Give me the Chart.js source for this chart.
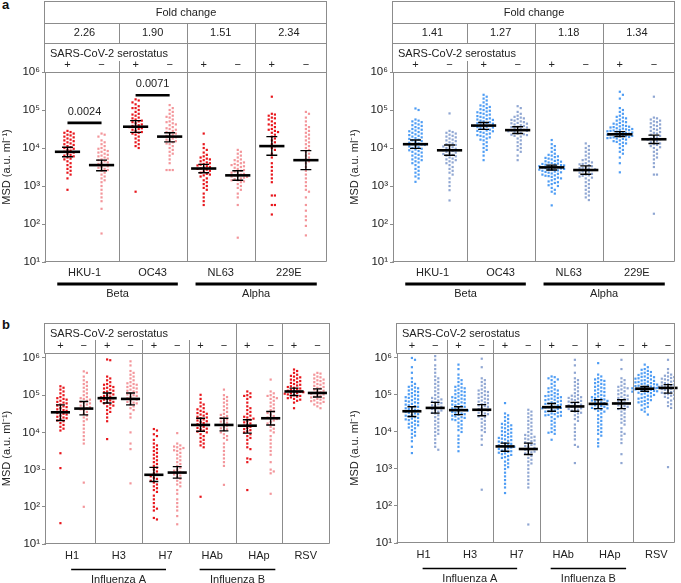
<!DOCTYPE html>
<html>
<head>
<meta charset="utf-8">
<script src="https://cdn.jsdelivr.net/npm/chart.js@4.4.1/dist/chart.umd.min.js"></script>
<style>
  body { margin: 0; background: #fff; width: 681px; height: 583px; position: relative; overflow: hidden;
         font-family: "Liberation Sans", Arial, Helvetica, sans-serif; }
  canvas { position: absolute; }
  .tag { position: absolute; font-weight: bold; font-size: 13px; color: #111; }
</style>
</head>
<body>
<div class="tag" style="left:2px;top:-3px">a</div>
<div class="tag" style="left:2px;top:317px">b</div>
<canvas id="aLeft" width="340" height="300" style="left:0;top:0"></canvas>
<canvas id="aRight" width="341" height="300" style="left:340px;top:0"></canvas>
<canvas id="bLeft" width="340" height="283" style="left:0;top:300px"></canvas>
<canvas id="bRight" width="341" height="283" style="left:340px;top:300px"></canvas>
<script>
// all point values are log10(MSD, a.u. per ml)

// ---------- panel a: seasonal coronaviruses ----------
const coronaCats = ["HKU-1", "OC43", "NL63", "229E"];
const coronaFamilies = ["Beta", "Alpha"];
const foldRed = ["2.26", "1.90", "1.51", "2.34"];
const foldBlue = ["1.41", "1.27", "1.18", "1.34"];
const pValues = ["0.0024", "0.0071"];
const pValueCats = [0, 1];
const pValueLevels = [4.66, 5.39];

const redPosA = [
  [4.45,4.42,4.40,4.38,4.35,4.33,4.30,4.28,4.25,4.22,4.20,4.18,4.15,4.12,4.10,4.08,4.05,4.02,4.00,3.98,3.95,3.93,3.90,3.88,3.85,3.82,3.80,3.78,3.75,3.72,3.70,3.65,3.60,3.55,3.50,3.45,3.40,3.35,3.30,3.20,2.90],
  [5.28,5.25,5.20,5.15,5.10,5.05,5.05,5.00,4.95,4.90,4.88,4.85,4.80,4.78,4.75,4.72,4.70,4.68,4.65,4.62,4.60,4.58,4.56,4.55,4.52,4.50,4.48,4.45,4.42,4.40,4.38,4.35,4.30,4.25,4.20,4.15,4.10,4.05,4.00,2.85],
  [4.38,4.10,4.00,3.95,3.88,3.82,3.78,3.75,3.72,3.70,3.68,3.65,3.62,3.60,3.58,3.56,3.54,3.52,3.50,3.48,3.46,3.45,3.43,3.40,3.38,3.35,3.32,3.30,3.28,3.25,3.20,3.15,3.10,3.05,3.00,2.95,2.90,2.80,2.70,2.60,2.50],
  [5.35,4.90,4.88,4.85,4.80,4.78,4.75,4.70,4.65,4.62,4.60,4.55,4.50,4.48,4.45,4.42,4.40,4.35,4.30,4.25,4.20,4.15,4.10,4.05,4.00,3.95,3.85,3.75,3.60,3.50,3.40,3.30,3.20,3.10,2.75,2.75,2.50,2.50,2.25]
];
const redNegA = [
  [4.38,4.35,4.30,4.20,4.15,4.10,4.05,4.00,3.98,3.95,3.92,3.90,3.88,3.85,3.82,3.80,3.78,3.75,3.72,3.70,3.68,3.65,3.62,3.60,3.58,3.55,3.52,3.50,3.48,3.45,3.42,3.40,3.35,3.30,3.25,3.20,3.15,3.10,3.00,2.90,2.80,2.70,2.60,2.40,1.75],
  [5.13,5.05,5.00,4.95,4.90,4.85,4.82,4.80,4.75,4.70,4.68,4.65,4.62,4.60,4.55,4.52,4.50,4.48,4.45,4.42,4.40,4.38,4.35,4.32,4.30,4.28,4.25,4.22,4.20,4.18,4.15,4.12,4.10,4.05,4.00,3.95,3.90,3.85,3.80,3.70,3.60,3.42,3.42,3.42],
  [3.95,3.90,3.85,3.80,3.75,3.70,3.68,3.65,3.62,3.60,3.58,3.55,3.55,3.52,3.50,3.48,3.45,3.42,3.40,3.38,3.35,3.35,3.32,3.30,3.28,3.26,3.25,3.24,3.22,3.20,3.18,3.15,3.15,3.12,3.10,3.05,3.00,2.95,2.90,2.80,2.70,2.50,1.64],
  [4.95,4.90,4.80,4.70,4.60,4.55,4.50,4.45,4.40,4.35,4.30,4.25,4.20,4.15,4.10,4.05,4.00,3.95,3.90,3.85,3.80,3.75,3.70,3.65,3.60,3.50,3.40,3.30,3.20,3.10,3.00,2.90,2.85,2.70,2.50,2.35,2.20,2.10,1.95,1.70]
];
// [lower CI, median, upper CI]
const redPosStatsA = [[3.77,3.90,4.02],[4.41,4.56,4.72],[3.35,3.46,3.57],[3.81,4.05,4.30]];
const redNegStatsA = [[3.40,3.55,3.68],[4.16,4.30,4.40],[3.15,3.28,3.40],[3.43,3.68,3.93]];

const bluePosA = [
  [5.04,5.00,4.75,4.72,4.70,4.68,4.65,4.62,4.60,4.58,4.55,4.52,4.50,4.48,4.46,4.44,4.42,4.40,4.38,4.36,4.34,4.32,4.30,4.28,4.26,4.24,4.22,4.20,4.18,4.16,4.14,4.12,4.10,4.09,4.08,4.06,4.04,4.02,4.00,3.98,3.96,3.94,3.92,3.90,3.88,3.85,3.82,3.80,3.78,3.75,3.72,3.70,3.68,3.65,3.62,3.60,3.55,3.50,3.45,3.40,3.35,3.30,3.25,3.20,3.11],
  [5.40,5.35,5.30,5.25,5.20,5.15,5.12,5.10,5.08,5.05,5.02,5.00,4.98,4.96,4.94,4.92,4.90,4.88,4.86,4.84,4.82,4.80,4.78,4.76,4.75,4.74,4.72,4.70,4.68,4.66,4.65,4.64,4.62,4.60,4.59,4.58,4.56,4.55,4.54,4.52,4.50,4.48,4.46,4.45,4.44,4.42,4.40,4.38,4.36,4.34,4.32,4.30,4.28,4.25,4.22,4.20,4.15,4.10,4.05,4.00,3.95,3.90,3.80,3.68],
  [4.21,4.10,4.05,4.00,3.95,3.90,3.85,3.82,3.80,3.78,3.76,3.74,3.72,3.70,3.68,3.66,3.65,3.64,3.62,3.60,3.59,3.58,3.57,3.56,3.55,3.54,3.53,3.52,3.51,3.50,3.49,3.48,3.47,3.46,3.45,3.44,3.43,3.42,3.41,3.40,3.38,3.37,3.36,3.35,3.33,3.32,3.30,3.28,3.27,3.26,3.24,3.22,3.20,3.18,3.15,3.12,3.10,3.08,3.05,3.02,3.00,2.95,2.90,2.85,2.80,2.49],
  [5.48,5.40,5.30,5.05,5.00,4.95,4.90,4.85,4.82,4.80,4.78,4.75,4.72,4.70,4.68,4.66,4.64,4.62,4.60,4.58,4.57,4.56,4.55,4.54,4.52,4.51,4.50,4.49,4.48,4.47,4.46,4.45,4.44,4.43,4.42,4.41,4.40,4.39,4.38,4.37,4.36,4.35,4.34,4.33,4.32,4.31,4.30,4.29,4.28,4.27,4.26,4.25,4.24,4.22,4.20,4.18,4.16,4.14,4.12,4.10,4.05,4.00,3.95,3.90,3.85,3.75,3.60,3.36]
];
const blueNegA = [
  [4.91,4.45,4.42,4.40,4.38,4.35,4.32,4.30,4.28,4.25,4.22,4.20,4.18,4.15,4.12,4.10,4.08,4.06,4.04,4.02,4.00,3.98,3.96,3.94,3.92,3.90,3.88,3.86,3.84,3.82,3.80,3.78,3.75,3.72,3.70,3.68,3.65,3.62,3.60,3.55,3.50,3.45,3.40,3.35,3.30,3.20,3.10,3.00,2.89,2.62],
  [5.10,5.05,4.95,4.90,4.85,4.82,4.80,4.78,4.76,4.74,4.72,4.70,4.68,4.66,4.65,4.64,4.62,4.60,4.58,4.56,4.55,4.54,4.52,4.50,4.48,4.47,4.46,4.45,4.44,4.42,4.40,4.38,4.36,4.35,4.34,4.32,4.30,4.25,4.20,4.15,4.10,4.05,4.00,3.95,3.90,3.80,3.68],
  [4.12,4.05,4.00,3.95,3.90,3.85,3.80,3.75,3.70,3.68,3.65,3.62,3.60,3.58,3.57,3.55,3.52,3.50,3.48,3.47,3.46,3.44,3.42,3.40,3.38,3.37,3.35,3.32,3.30,3.28,3.27,3.25,3.22,3.20,3.15,3.10,3.05,3.00,2.95,2.90,2.85,2.80,2.75,2.70,2.63],
  [5.35,4.80,4.78,4.75,4.72,4.70,4.68,4.65,4.62,4.60,4.58,4.55,4.52,4.50,4.48,4.45,4.42,4.40,4.38,4.35,4.32,4.30,4.28,4.25,4.23,4.22,4.20,4.18,4.15,4.12,4.10,4.08,4.05,4.02,4.00,3.95,3.90,3.85,3.80,3.75,3.70,3.60,3.50,3.30,3.30,2.27]
];
const bluePosStatsA = [[3.99,4.10,4.21],[4.49,4.59,4.67],[3.42,3.49,3.55],[4.30,4.36,4.43]];
const blueNegStatsA = [[3.81,3.94,4.08],[4.38,4.47,4.56],[3.31,3.42,3.53],[4.12,4.23,4.34]];

// ---------- panel b: influenza and RSV ----------
const fluCats = ["H1", "H3", "H7", "HAb", "HAp", "RSV"];
const fluFamilies = ["Influenza A", "Influenza B"];

const redPosB = [
  [5.24,5.20,5.15,5.10,5.05,5.00,4.95,4.92,4.90,4.88,4.85,4.82,4.80,4.78,4.75,4.72,4.70,4.68,4.65,4.62,4.60,4.58,4.55,4.52,4.50,4.48,4.45,4.42,4.40,4.38,4.35,4.32,4.30,4.25,4.20,4.15,4.10,4.05,3.44,3.04,1.56],
  [5.96,5.94,5.50,5.45,5.40,5.35,5.30,5.28,5.25,5.22,5.20,5.18,5.15,5.12,5.10,5.08,5.05,5.02,5.00,4.98,4.96,4.94,4.92,4.90,4.88,4.86,4.84,4.82,4.80,4.78,4.75,4.72,4.70,4.65,4.60,4.55,4.50,4.40,4.30,3.82],
  [4.09,4.05,3.95,3.90,3.80,3.70,3.65,3.60,3.55,3.50,3.45,3.40,3.35,3.30,3.25,3.20,3.15,3.10,3.05,3.00,2.95,2.90,2.86,2.82,2.78,2.75,2.70,2.65,2.60,2.55,2.50,2.45,2.40,2.30,2.20,2.10,2.00,1.95,1.90,1.70,1.66],
  [5.01,4.90,4.80,4.75,4.70,4.65,4.62,4.58,4.55,4.52,4.50,4.48,4.45,4.42,4.40,4.38,4.35,4.32,4.30,4.28,4.25,4.22,4.20,4.18,4.15,4.12,4.10,4.08,4.05,4.02,4.00,3.95,3.90,3.85,3.80,3.75,3.70,3.65,3.60,2.27],
  [5.10,5.05,5.00,4.98,4.95,4.90,4.80,4.70,4.65,4.60,4.55,4.50,4.45,4.42,4.40,4.37,4.34,4.30,4.27,4.24,4.21,4.18,4.15,4.12,4.09,4.06,4.03,4.00,3.95,3.90,3.85,3.80,3.70,3.60,3.55,3.30,3.28,3.20,2.45],
  [5.69,5.65,5.60,5.55,5.52,5.50,5.48,5.45,5.42,5.40,5.38,5.35,5.33,5.30,5.28,5.26,5.24,5.22,5.20,5.18,5.16,5.14,5.12,5.10,5.09,5.08,5.06,5.05,5.04,5.02,5.00,4.98,4.96,4.94,4.92,4.90,4.88,4.85,4.80,4.65]
];
const redNegB = [
  [5.64,5.60,5.50,5.40,5.35,5.30,5.25,5.20,5.15,5.10,5.05,5.00,4.95,4.92,4.90,4.88,4.85,4.82,4.80,4.78,4.75,4.72,4.70,4.68,4.65,4.62,4.60,4.55,4.50,4.45,4.40,4.35,4.30,4.20,4.10,4.00,3.90,3.80,3.70,2.65,2.00],
  [5.91,5.80,5.65,5.60,5.55,5.50,5.45,5.40,5.35,5.32,5.30,5.28,5.25,5.22,5.20,5.18,5.15,5.12,5.10,5.08,5.05,5.02,5.00,4.98,4.95,4.92,4.90,4.88,4.85,4.82,4.80,4.78,4.75,4.70,4.65,4.60,4.50,4.40,4.00,3.70,3.55,2.63],
  [3.98,3.70,3.65,3.62,3.60,3.58,3.55,3.52,3.50,3.45,3.40,3.35,3.30,3.25,3.20,3.15,3.10,3.05,3.00,2.97,2.94,2.92,2.90,2.87,2.84,2.80,2.75,2.70,2.65,2.60,2.55,2.45,2.35,2.20,2.10,2.00,1.90,1.75,1.53],
  [5.15,5.00,4.95,4.90,4.85,4.80,4.75,4.70,4.65,4.60,4.55,4.50,4.47,4.44,4.41,4.38,4.35,4.32,4.29,4.26,4.23,4.20,4.17,4.14,4.11,4.08,4.05,4.00,3.95,3.90,3.85,3.80,3.70,3.60,3.50,3.40,3.30,3.20,3.10,2.59],
  [5.42,5.10,5.05,5.00,4.98,4.95,4.92,4.90,4.85,4.80,4.75,4.70,4.65,4.60,4.56,4.52,4.48,4.44,4.40,4.38,4.36,4.32,4.28,4.24,4.20,4.15,4.10,4.05,4.00,3.90,3.80,3.70,3.60,3.50,3.40,3.20,3.00,2.95,2.90,2.35],
  [5.60,5.58,5.55,5.50,5.48,5.45,5.42,5.40,5.38,5.35,5.32,5.30,5.28,5.25,5.22,5.20,5.18,5.15,5.12,5.10,5.08,5.06,5.04,5.02,5.00,4.98,4.96,4.94,4.92,4.90,4.88,4.86,4.84,4.82,4.80,4.78,4.75,4.70,4.65]
];
const redPosStatsB = [[4.32,4.54,4.74],[4.79,4.92,5.06],[2.68,2.86,3.06],[4.03,4.20,4.38],[3.98,4.18,4.34],[4.99,5.10,5.19]];
const redNegStatsB = [[4.47,4.64,4.83],[4.74,4.90,5.06],[2.77,2.92,3.08],[4.04,4.20,4.38],[4.20,4.38,4.56],[4.95,5.06,5.17]];

const bluePosB = [
  [6.00,5.95,5.75,5.60,5.45,5.35,5.30,5.25,5.22,5.20,5.18,5.15,5.12,5.10,5.08,5.05,5.02,5.00,4.98,4.96,4.94,4.92,4.90,4.88,4.86,4.84,4.82,4.80,4.78,4.76,4.74,4.72,4.70,4.68,4.66,4.64,4.62,4.60,4.58,4.56,4.54,4.52,4.50,4.48,4.46,4.44,4.42,4.40,4.38,4.36,4.34,4.32,4.30,4.28,4.25,4.22,4.20,4.18,4.15,4.12,4.10,4.05,4.00,3.95,3.90,3.85,3.75,3.60,3.43],
  [5.82,5.70,5.55,5.45,5.40,5.35,5.30,5.25,5.22,5.20,5.18,5.15,5.12,5.10,5.08,5.05,5.02,5.00,4.98,4.96,4.94,4.92,4.90,4.88,4.86,4.84,4.82,4.80,4.78,4.76,4.74,4.72,4.70,4.68,4.66,4.64,4.62,4.60,4.59,4.58,4.56,4.54,4.52,4.50,4.48,4.46,4.44,4.42,4.40,4.38,4.36,4.34,4.32,4.30,4.25,4.20,4.15,4.10,4.05,4.00,3.90,3.80,3.70,3.60,3.48],
  [4.78,4.50,4.45,4.40,4.35,4.30,4.25,4.22,4.20,4.18,4.15,4.12,4.10,4.08,4.05,4.02,4.00,3.98,3.95,3.92,3.90,3.88,3.86,3.84,3.82,3.80,3.78,3.76,3.74,3.72,3.70,3.68,3.66,3.64,3.62,3.61,3.60,3.58,3.56,3.54,3.52,3.50,3.48,3.46,3.44,3.42,3.40,3.38,3.35,3.32,3.30,3.25,3.20,3.15,3.10,3.05,3.00,2.90,2.80,2.70,2.60,2.50,2.35],
  [5.50,5.48,5.45,5.42,5.40,5.35,5.30,5.25,5.20,5.18,5.15,5.12,5.10,5.08,5.05,5.02,5.00,4.98,4.97,4.96,4.94,4.92,4.90,4.88,4.87,4.86,4.84,4.82,4.80,4.78,4.77,4.76,4.74,4.72,4.70,4.68,4.67,4.66,4.65,4.64,4.62,4.60,4.58,4.56,4.55,4.54,4.52,4.50,4.48,4.46,4.45,4.44,4.42,4.40,4.35,4.30,4.25,4.20,4.15,4.10,4.05,4.00,3.98,3.95,3.79],
  [5.86,5.55,5.50,5.45,5.42,5.40,5.38,5.35,5.32,5.30,5.28,5.25,5.22,5.20,5.18,5.15,5.12,5.10,5.08,5.05,5.02,5.00,4.98,4.96,4.94,4.92,4.90,4.88,4.86,4.85,4.84,4.82,4.80,4.78,4.76,4.75,4.74,4.72,4.70,4.68,4.66,4.65,4.64,4.62,4.60,4.57,4.55,4.50,4.45,4.40,4.35,4.30,4.25,4.20,4.15,4.10,4.05,4.00,3.95,3.90,3.80,3.70,3.61],
  [5.82,5.75,5.70,5.68,5.65,5.62,5.60,5.58,5.56,5.54,5.52,5.50,5.49,5.48,5.46,5.45,5.44,5.42,5.40,5.39,5.38,5.36,5.35,5.34,5.32,5.31,5.30,5.29,5.28,5.26,5.25,5.24,5.23,5.22,5.21,5.20,5.19,5.18,5.17,5.16,5.15,5.14,5.13,5.12,5.11,5.10,5.09,5.08,5.06,5.05,5.04,5.02,5.00,4.98,4.96,4.94,4.92,4.90,4.88,4.86,4.84,4.82,4.80,4.78,4.75,4.72,4.68,4.64,4.60,4.55,4.47]
];
const blueNegB = [
  [6.05,5.95,5.80,5.70,5.60,5.50,5.45,5.40,5.35,5.30,5.25,5.20,5.15,5.10,5.05,5.00,4.95,4.92,4.90,4.88,4.85,4.82,4.80,4.78,4.75,4.72,4.70,4.68,4.65,4.62,4.60,4.58,4.55,4.52,4.50,4.45,4.40,4.35,4.30,4.25,4.20,4.15,4.10,4.05,4.00,3.95,3.90,3.80,3.70,3.60,3.52],
  [5.98,5.75,5.45,5.40,5.35,5.30,5.25,5.20,5.15,5.12,5.10,5.08,5.05,5.02,5.00,4.98,4.95,4.92,4.90,4.88,4.85,4.82,4.80,4.78,4.75,4.72,4.70,4.68,4.65,4.62,4.60,4.58,4.55,4.52,4.50,4.48,4.45,4.42,4.40,4.35,4.30,4.25,4.20,4.15,4.10,4.05,4.00,3.90,3.80,3.65,2.44],
  [4.60,4.55,4.50,4.45,4.40,4.35,4.30,4.25,4.20,4.15,4.10,4.05,4.00,3.95,3.92,3.90,3.87,3.85,3.82,3.80,3.77,3.75,3.72,3.70,3.67,3.65,3.62,3.60,3.57,3.54,3.52,3.50,3.47,3.45,3.42,3.40,3.35,3.30,3.25,3.20,3.15,3.10,3.00,2.90,2.80,2.70,2.60,2.50,1.50],
  [5.95,5.80,5.60,5.45,5.40,5.35,5.30,5.25,5.20,5.15,5.10,5.05,5.00,4.98,4.96,4.94,4.92,4.90,4.88,4.86,4.84,4.82,4.80,4.78,4.76,4.74,4.72,4.70,4.68,4.66,4.64,4.62,4.60,4.58,4.55,4.52,4.50,4.45,4.40,4.35,4.30,4.20,4.10,4.00,3.90,3.80,3.65,3.60,3.16],
  [5.95,5.70,5.45,5.40,5.35,5.30,5.25,5.22,5.20,5.18,5.15,5.12,5.10,5.05,5.02,5.00,4.98,4.95,4.92,4.90,4.88,4.85,4.82,4.80,4.78,4.77,4.75,4.72,4.70,4.68,4.65,4.62,4.60,4.55,4.50,4.45,4.40,4.35,4.30,4.25,4.20,4.10,4.00,3.95,3.90,3.80,3.70,3.40,3.16],
  [5.95,5.70,5.60,5.55,5.52,5.50,5.48,5.46,5.44,5.42,5.40,5.38,5.36,5.34,5.32,5.30,5.28,5.26,5.25,5.24,5.23,5.22,5.21,5.20,5.19,5.18,5.17,5.16,5.15,5.14,5.12,5.10,5.08,5.06,5.04,5.02,5.00,4.98,4.95,4.92,4.90,4.85,4.80,4.75,4.70,4.65,3.05]
];
const bluePosStatsB = [[4.42,4.56,4.68],[4.47,4.59,4.68],[3.48,3.61,3.70],[4.56,4.67,4.77],[4.63,4.76,4.87],[5.10,5.17,5.23]];
const blueNegStatsB = [[4.51,4.65,4.80],[4.44,4.60,4.74],[3.39,3.54,3.70],[4.56,4.69,4.80],[4.63,4.77,4.87],[5.05,5.19,5.28]];

const yTicks = [1e1, 1e2, 1e3, 1e4, 1e5, 1e6];
const SUP = ["⁰", "¹", "²", "³", "⁴", "⁵", "⁶"];
const FONT = '"Liberation Sans", Arial, Helvetica, sans-serif';
const LINE = "#8c8c8c";
const INK = "#222";

Chart.defaults.font.family = FONT;
Chart.defaults.font.size = 11;
Chart.defaults.color = INK;

// spread the points of each group sideways so they don't overlap
function swarm(chart, gap) {
  const xs = chart.scales.x, ys = chart.scales.y;
  const unit = xs.getPixelForValue(1) - xs.getPixelForValue(0);
  chart.data.datasets.forEach(ds => {
    const groups = new Map();
    ds.data.forEach(p => {
      if (!groups.has(p.c)) groups.set(p.c, []);
      groups.get(p.c).push(p);
    });
    groups.forEach(pts => {
      const placed = [];
      pts.forEach(p => {
        const py = ys.getPixelForValue(p.y);
        let dx = 0;
        for (let k = 0; k < 80; k++) {
          const cand = k === 0 ? 0 : (k % 2 ? 1 : -1) * Math.ceil(k / 2) * gap;
          const hit = placed.some(q => Math.abs(q.x - cand) < gap - 0.01 && Math.abs(q.y - py) < gap - 0.01);
          if (!hit) { dx = cand; break; }
        }
        placed.push({ x: dx, y: py });
        p.x = p.x + dx / unit;
      });
    });
  });
  chart.update("none");
}

function drawStats(chart, cfg) {
  const { ctx, scales: { x, y } } = chart;
  const unit = x.getPixelForValue(1) - x.getPixelForValue(0);
  ctx.save();
  ctx.strokeStyle = "#000";
  [[cfg.posStats, cfg.offPos], [cfg.negStats, cfg.offNeg]].forEach(([stats, off]) => {
    stats.forEach(([lo, med, hi], i) => {
      const px = x.getPixelForValue(i + off);
      const yl = y.getPixelForValue(Math.pow(10, lo));
      const ym = y.getPixelForValue(Math.pow(10, med));
      const yh = y.getPixelForValue(Math.pow(10, hi));
      const cap = cfg.capW * unit / 2, bar = cfg.medW * unit / 2;
      ctx.lineWidth = 1.4;
      ctx.beginPath();
      ctx.moveTo(px, yh); ctx.lineTo(px, yl);
      ctx.moveTo(px - cap, yh); ctx.lineTo(px + cap, yh);
      ctx.moveTo(px - cap, yl); ctx.lineTo(px + cap, yl);
      ctx.stroke();
      ctx.lineWidth = 2.6;
      ctx.beginPath();
      ctx.moveTo(px - bar, ym); ctx.lineTo(px + bar, ym);
      ctx.stroke();
    });
  });

  // significance bars
  if (cfg.pvals) {
    ctx.fillStyle = INK;
    ctx.font = "11px " + FONT;
    ctx.textAlign = "center";
    ctx.textBaseline = "middle";
    cfg.pvals.forEach((txt, k) => {
      const i = cfg.pCats[k];
      const x0 = x.getPixelForValue(i + cfg.offPos), x1 = x.getPixelForValue(i + cfg.offNeg);
      const yy = y.getPixelForValue(Math.pow(10, cfg.pLevels[k]));
      ctx.lineWidth = 2.6;
      ctx.beginPath(); ctx.moveTo(x0, yy); ctx.lineTo(x1, yy); ctx.stroke();
      ctx.fillText(txt, (x0 + x1) / 2, yy - 11);
    });
  }
  ctx.restore();
}

function drawFrame(chart, cfg) {
  const { ctx, chartArea: a, scales: { x } } = chart;
  const cx = v => x.getPixelForValue(v);
  const L = Math.round(a.left) - 0.5, R = Math.round(a.right) - 0.5;
  const T = Math.round(a.top) + 0.5, B = Math.round(a.bottom) - 0.5;
  const n = cfg.cats.length;
  ctx.save();
  ctx.strokeStyle = LINE;
  ctx.lineWidth = 1;
  const seg = (x0, y0, x1, y1) => { ctx.beginPath(); ctx.moveTo(x0, y0); ctx.lineTo(x1, y1); ctx.stroke(); };

  // header table and plot box
  seg(L, cfg.tableTop + 0.5, R, cfg.tableTop + 0.5);
  cfg.rowLines.forEach(r => seg(L, r + 0.5, R, r + 0.5));
  seg(L, T, R, T);
  seg(L, B, R, B);
  seg(L, cfg.tableTop, L, T);
  seg(R, cfg.tableTop, R, B);
  for (let i = 1; i < n; i++) {
    const bx = Math.round(cx(i - 0.5)) + 0.5;
    const gap = cfg.sepGaps[i - 1];
    if (gap) {
      if (gap[0] > cfg.sepFrom) seg(bx, cfg.sepFrom, bx, gap[0]);
      seg(bx, gap[1], bx, B);
    } else {
      seg(bx, cfg.sepFrom, bx, B);
    }
  }

  ctx.fillStyle = INK;
  ctx.font = "11px " + FONT;
  ctx.textBaseline = "middle";
  ctx.textAlign = "center";
  if (cfg.fold) {
    ctx.fillText("Fold change", (a.left + a.right) / 2, cfg.foldTitleY);
    cfg.fold.forEach((f, i) => ctx.fillText(f, cx(i), cfg.foldY));
  }
  ctx.textAlign = "left";
  ctx.fillText("SARS-CoV-2 serostatus", a.left + 5, cfg.seroY);
  ctx.textAlign = "center";
  cfg.cats.forEach((c, i) => {
    ctx.fillText("+", cx(i + cfg.offPos), cfg.signY);
    ctx.fillText("\u2212", cx(i + cfg.offNeg), cfg.signY);
    ctx.fillText(c, cx(i), a.bottom + cfg.catDy);
  });

  // virus family bars
  ctx.strokeStyle = "#000";
  ctx.lineWidth = cfg.famLW;
  cfg.families.forEach((name, k) => {
    const [f0, f1] = cfg.famSpan[k];
    const yy = a.bottom + cfg.famDy;
    seg(cx(f0), yy, cx(f1), yy);
    ctx.fillText(name, (cx(f0) + cx(f1)) / 2, a.bottom + cfg.famLabelDy);
  });
  ctx.restore();
}

function makePanel(cfg) {
  const n = cfg.cats.length;
  const toPts = (groups, off) => groups.flatMap((vals, i) =>
    vals.map(v => ({ x: i + off, y: Math.pow(10, v), c: i })));
  const chart = new Chart(document.getElementById(cfg.id), {
    type: "scatter",
    data: {
      datasets: [
        { label: "+", data: toPts(cfg.pos, cfg.offPos), pointBackgroundColor: cfg.colors[0],
          pointStyle: "rect", pointRadius: 1.55, pointBorderWidth: 0 },
        { label: "\u2212", data: toPts(cfg.neg, cfg.offNeg), pointBackgroundColor: cfg.colors[1],
          pointStyle: "rect", pointRadius: 1.55, pointBorderWidth: 0 }
      ]
    },
    options: {
      responsive: false,
      animation: false,
      events: [],
      layout: { padding: cfg.pad },
      plugins: { legend: { display: false }, tooltip: { enabled: false } },
      scales: {
        x: { type: "linear", min: cfg.xRange[0], max: cfg.xRange[1], display: false },
        y: {
          type: "logarithmic",
          min: 10,
          max: cfg.yMax,
          afterFit: s => { s.width = cfg.axisW; },
          afterBuildTicks: s => { s.ticks = yTicks.map(v => ({ value: v })); },
          ticks: {
            callback: v => "10" + SUP[Math.round(Math.log10(v))],
            padding: 2,
            color: INK,
            font: { size: 11.5 }
          },
          grid: { drawOnChartArea: false, tickLength: 3, color: LINE },
          border: { color: LINE },
          title: { display: true, text: "MSD (a.u. ml\u207B\u00B9)", padding: 0, color: INK, font: { size: 11 } }
        }
      }
    },
    plugins: [{
      id: "deco",
      afterDatasetsDraw: c => drawStats(c, cfg),
      afterDraw: c => drawFrame(c, cfg)
    }]
  });
  swarm(chart, 3.1);
  return chart;
}

const headerA = {
  cats: coronaCats, families: coronaFamilies, famSpan: [[-0.40, 1.37], [1.63, 3.41]],
  xRange: [-0.58, 3.56], yMax: 1e6, offPos: -0.25, offNeg: 0.25, medW: 0.37, capW: 0.16,
  tableTop: 1, rowLines: [23, 43], sepFrom: 23, sepGaps: [[43, 61], null, null],
  foldTitleY: 13, foldY: 33, seroY: 54, signY: 65,
  catDy: 11, famDy: 22, famLW: 3, famLabelDy: 32
};
const headerB = {
  cats: fluCats, families: fluFamilies, famSpan: [[-0.02, 2.01], [2.73, 4.35]],
  yMax: Math.pow(10, 6.134), offPos: -0.25, offNeg: 0.25, medW: 0.41, capW: 0.19,
  tableTop: 23, rowLines: [], sepFrom: 23, sepGaps: [[23, 40], [23, 40], [23, 40], null, null],
  seroY: 34, signY: 46,
  catDy: 12, famDy: 25.5, famLW: 1.6, famLabelDy: 36
};

makePanel(Object.assign({}, headerA, {
  id: "aLeft", pos: redPosA, neg: redNegA, posStats: redPosStatsA, negStats: redNegStatsA,
  colors: ["#e8151b", "#f3959a"], fold: foldRed,
  pvals: pValues, pCats: pValueCats, pLevels: pValueLevels,
  axisW: 45, pad: { left: 0, right: 13, top: 72, bottom: 38 }
}));
makePanel(Object.assign({}, headerA, {
  id: "aRight", pos: bluePosA, neg: blueNegA, posStats: bluePosStatsA, negStats: blueNegStatsA,
  colors: ["#4d9cf4", "#8fa6d2"], fold: foldBlue,
  axisW: 45, pad: { left: 8, right: 6, top: 72, bottom: 38 }
}));
makePanel(Object.assign({}, headerB, {
  id: "bLeft", pos: redPosB, neg: redNegB, posStats: redPosStatsB, negStats: redNegStatsB,
  colors: ["#e8151b", "#f3959a"], xRange: [-0.58, 5.52],
  axisW: 45, pad: { left: 0, right: 10, top: 53, bottom: 39 }
}));
makePanel(Object.assign({}, headerB, {
  id: "bRight", pos: bluePosB, neg: blueNegB, posStats: bluePosStatsB, negStats: blueNegStatsB,
  colors: ["#4d9cf4", "#8fa6d2"], xRange: [-0.57, 5.40],
  axisW: 49, pad: { left: 8, right: 6, top: 53, bottom: 40 }
}));
</script>
</body>
</html>
